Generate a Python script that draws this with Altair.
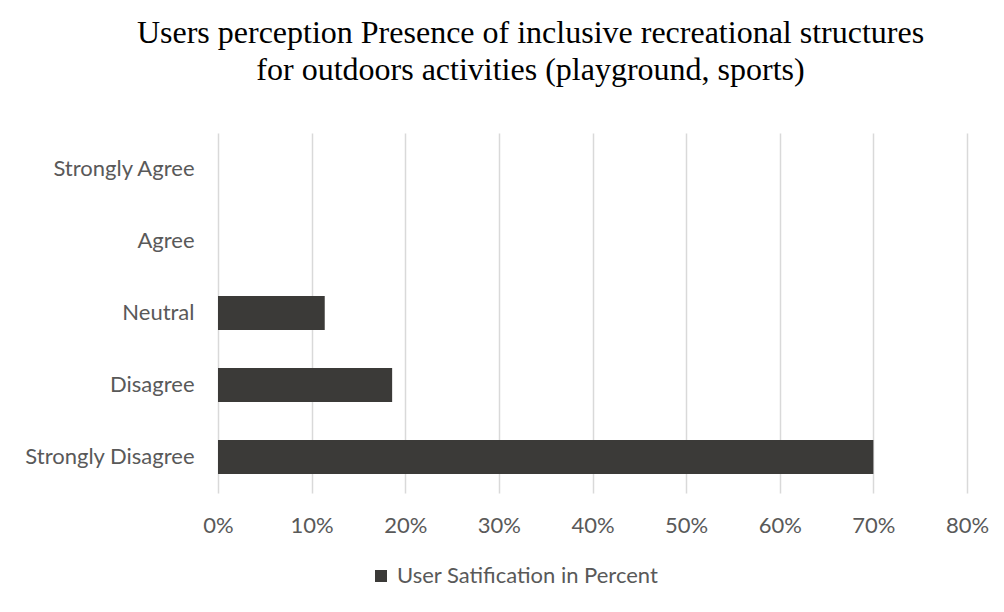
import altair as alt
import pandas as pd

categories = ["Strongly Agree", "Agree", "Neutral", "Disagree", "Strongly Disagree"]
values = [0.0, 0.0, 0.114, 0.186, 0.700]
series_name = "User Satification in Percent"
title_lines = ["Users perception Presence of inclusive recreational structures",
               "for outdoors activities (playground, sports)"]

df = pd.DataFrame({"category": categories, "value": values, "series": [series_name] * len(categories)})

LABEL_FONT = "Lato"
LABEL_SIZE = 22

bars = alt.Chart(df).mark_bar(color="#3b3a38").encode(
    y=alt.Y("category:N", sort=categories, title=None,
            scale=alt.Scale(paddingInner=0.53, paddingOuter=0.265),
            axis=alt.Axis(labelFont=LABEL_FONT, labelFontSize=LABEL_SIZE, labelColor="#595959",
                          ticks=False, domain=False, labelPadding=24, grid=False, labelLimit=300)),
    x=alt.X("value:Q", title=None,
            scale=alt.Scale(domain=[0, 0.8], nice=False),
            axis=alt.Axis(format=".0%", values=[0, 0.1, 0.2, 0.3, 0.4, 0.5, 0.6, 0.7, 0.8],
                          labelFont=LABEL_FONT, labelFontSize=LABEL_SIZE, labelColor="#595959",
                          labelFlush=False, labelAlign="center",
                          ticks=False, domain=False, labelPadding=22,
                          grid=True, gridColor="#d9d9d9", gridWidth=1.5)),
    fill=alt.Fill("series:N", scale=alt.Scale(range=["#3b3a38"]),
                  legend=alt.Legend(title=None, orient="none", legendX=152, legendY=432,
                                    symbolType="square", symbolSize=144, labelLimit=500,
                                    labelOffset=5,
                                    labelFont=LABEL_FONT, labelFontSize=LABEL_SIZE, labelColor="#595959",
                                    symbolStrokeWidth=0))
)

chart = bars.properties(
    width=749, height=360,
    background="white",
    title=alt.TitleParams(text=title_lines, font="Liberation Serif", fontSize=32,
                          fontWeight="normal", color="#000000", anchor="middle",
                          dx=-62, offset=46, lineHeight=37),
    padding={"left": 210, "top": 125, "right": 29, "bottom": 111},
    autosize=alt.AutoSizeParams(type="none"),
).configure_view(strokeWidth=0, stroke="transparent")

chart.save("out.html", embed_options={"renderer": "svg", "actions": False})
